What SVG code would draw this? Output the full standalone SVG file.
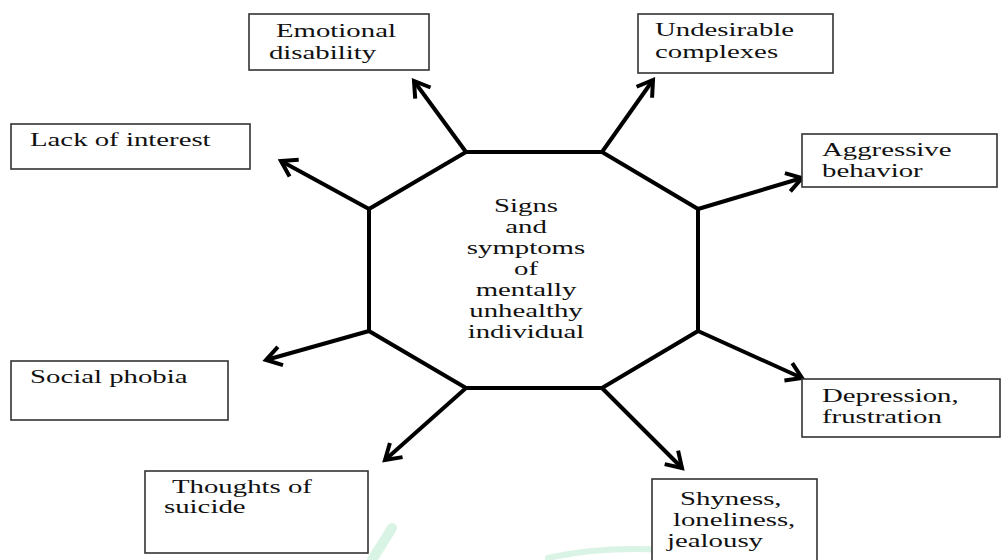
<svg xmlns="http://www.w3.org/2000/svg" width="1006" height="560" viewBox="0 0 1006 560">
<style>
.box{fill:#fff;stroke:#333;stroke-width:1.6}
.t{font-family:"Liberation Serif","Times New Roman",serif;font-size:18px;fill:#111}
.c{text-anchor:middle}
.oct{fill:none;stroke:#000;stroke-width:4;stroke-linejoin:miter}
.arr{stroke:#000;stroke-width:4;fill:none;marker-end:url(#ah)}
.wm{fill:none;stroke:#2fbf6a;stroke-opacity:0.18;stroke-linecap:round}
</style>
<defs>
<marker id="ah" markerUnits="userSpaceOnUse" viewBox="-22 -14 26 28" markerWidth="26" markerHeight="28" refX="0" refY="0" orient="auto" overflow="visible">
<path d="M-15,-9.5 L0,0 L-15,9.5" fill="none" stroke="#000" stroke-width="4" stroke-linejoin="miter"/>
</marker>
</defs>
<rect width="1006" height="560" fill="#fff"/>
<g id="watermark">
<path class="wm" d="M548,558 Q610,544 690,552" stroke-width="6"/>
<path class="wm" d="M372,560 L392,528" stroke-width="10"/>
</g>
<g id="center">
<polygon class="oct" points="466,152 602,152 698,209 698,331 602,388 466,388 369,331 369,209"/>
<text class="t c" transform="translate(526,0) scale(1.6,1)"><tspan x="0" y="212">Signs</tspan><tspan x="0" y="233">and</tspan><tspan x="0" y="254">symptoms</tspan><tspan x="0" y="275">of</tspan><tspan x="0" y="296">mentally</tspan><tspan x="0" y="317">unhealthy</tspan><tspan x="0" y="338">individual</tspan></text>
</g>
<g id="connectors">
<line class="arr" x1="466" y1="152" x2="414" y2="81"/>
<line class="arr" x1="602" y1="152" x2="653" y2="80"/>
<line class="arr" x1="369" y1="209" x2="281" y2="161"/>
<line class="arr" x1="698" y1="209" x2="802" y2="178"/>
<line class="arr" x1="369" y1="331" x2="266" y2="360"/>
<line class="arr" x1="698" y1="331" x2="802" y2="378"/>
<line class="arr" x1="466" y1="388" x2="385" y2="460"/>
<line class="arr" x1="602" y1="388" x2="682" y2="468"/>
</g>
<g id="emotional">
<rect class="box" x="249" y="14" width="180" height="56"/>
<text class="t" transform="translate(276,0) scale(1.6,1)"><tspan x="0" y="37">Emotional</tspan><tspan x="-4.4" y="59">disability</tspan></text>
</g>
<g id="undesirable">
<rect class="box" x="638" y="14" width="195" height="59"/>
<text class="t" transform="translate(655,0) scale(1.6,1)"><tspan x="0" y="36">Undesirable</tspan><tspan x="0" y="58">complexes</tspan></text>
</g>
<g id="lack">
<rect class="box" x="11" y="124" width="239" height="45"/>
<text class="t" transform="translate(30,0) scale(1.6,1)"><tspan x="0" y="146">Lack of interest</tspan></text>
</g>
<g id="aggressive">
<rect class="box" x="802" y="134" width="195" height="53"/>
<text class="t" transform="translate(822,0) scale(1.6,1)"><tspan x="0" y="156">Aggressive</tspan><tspan x="0" y="177">behavior</tspan></text>
</g>
<g id="social">
<rect class="box" x="11" y="361" width="217" height="59"/>
<text class="t" transform="translate(30,0) scale(1.6,1)"><tspan x="0" y="383">Social phobia</tspan></text>
</g>
<g id="depression">
<rect class="box" x="802" y="379" width="198" height="58"/>
<text class="t" transform="translate(822,0) scale(1.6,1)"><tspan x="0" y="402">Depression,</tspan><tspan x="0" y="423">frustration</tspan></text>
</g>
<g id="thoughts">
<rect class="box" x="145" y="471" width="223" height="82"/>
<text class="t" transform="translate(172,0) scale(1.6,1)"><tspan x="0" y="493">Thoughts of</tspan><tspan x="-5" y="513">suicide</tspan></text>
</g>
<g id="shyness">
<rect class="box" x="652" y="479" width="165" height="90"/>
<text class="t" transform="translate(680,0) scale(1.6,1)"><tspan x="0" y="505">Shyness,</tspan><tspan x="-4.4" y="526">loneliness,</tspan><tspan x="-8.1" y="547">jealousy</tspan></text>
</g>
</svg>
